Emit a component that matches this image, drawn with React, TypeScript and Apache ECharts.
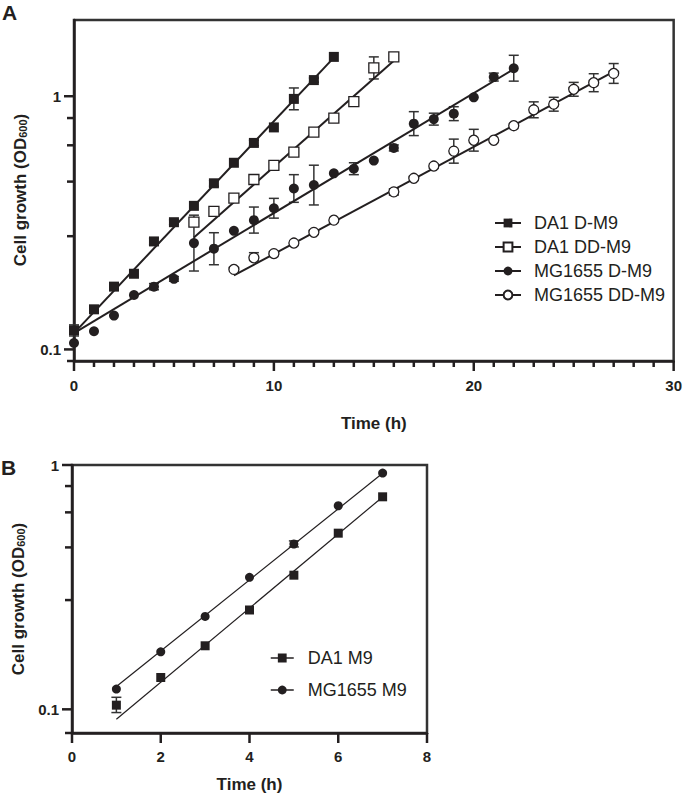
import React, { useEffect, useRef } from 'react';
import * as echarts from 'echarts';

const FONT = '"Liberation Sans", Arial, Helvetica, sans-serif';
const INK = '#231f20';

// ---------------- Panel A data ----------------
const hoursDA1_DM9 = [0, 1, 2, 3, 4, 5, 6, 7, 8, 9, 10, 11, 12, 13];
const odDA1_DM9 = [0.119, 0.144, 0.177, 0.199, 0.267, 0.318, 0.369, 0.453, 0.546, 0.654, 0.753, 0.976, 1.158, 1.43];
const errDA1_DM9 = [[0, 0.113, 0.125], [4, 0.259, 0.275], [5, 0.311, 0.325], [7, 0.441, 0.465], [9, 0.638, 0.67], [11, 0.884, 1.078], [12, 1.137, 1.18]];
const fitDA1_DM9 = [[0, 0.116], [13, 1.42]];

const hoursDA1_DDM9 = [6, 7, 8, 9, 10, 11, 12, 13, 14, 15, 16];
const odDA1_DDM9 = [0.318, 0.351, 0.396, 0.469, 0.533, 0.601, 0.722, 0.82, 0.952, 1.295, 1.43];
const errDA1_DDM9 = [[15, 1.17, 1.43]];
const fitDA1_DDM9 = [[6, 0.277], [16, 1.38]];

const hoursMG_DM9 = [0, 1, 2, 3, 4, 5, 6, 7, 8, 9, 10, 11, 12, 13, 14, 15, 16, 17, 18, 19, 20, 21, 22];
const odMG_DM9 = [0.106, 0.118, 0.136, 0.164, 0.177, 0.19, 0.263, 0.25, 0.294, 0.324, 0.361, 0.432, 0.446, 0.496, 0.517, 0.557, 0.625, 0.779, 0.812, 0.853, 0.99, 1.19, 1.29];
const errMG_DM9 = [[4, 0.172, 0.182], [5, 0.186, 0.194], [6, 0.204, 0.339], [7, 0.216, 0.289], [9, 0.288, 0.365], [10, 0.33, 0.395], [11, 0.381, 0.49], [12, 0.372, 0.534], [14, 0.49, 0.546], [16, 0.608, 0.642], [17, 0.699, 0.869], [18, 0.769, 0.857], [19, 0.801, 0.909], [21, 1.148, 1.234], [22, 1.147, 1.451]];
const fitMG_DM9 = [[0, 0.116], [22, 1.28]];

const hoursMG_DDM9 = [8, 9, 10, 11, 12, 13, 16, 17, 18, 19, 20, 21, 22, 23, 24, 25, 26, 27];
const odMG_DDM9 = [0.207, 0.23, 0.239, 0.263, 0.29, 0.324, 0.419, 0.474, 0.53, 0.607, 0.67, 0.67, 0.765, 0.884, 0.93, 1.065, 1.131, 1.23];
const errMG_DDM9 = [[9, 0.226, 0.241], [10, 0.236, 0.243], [12, 0.285, 0.295], [16, 0.407, 0.431], [18, 0.52, 0.54], [19, 0.544, 0.677], [20, 0.607, 0.74], [23, 0.822, 0.95], [24, 0.873, 0.99], [25, 1.0, 1.134], [26, 1.042, 1.227], [27, 1.124, 1.346]];
const fitMG_DDM9 = [[8, 0.196], [27, 1.25]];

// axis ticks, panel A
const yMinorTicksA = [0.09, 0.28, 0.46, 0.64, 0.82];
const xMajorTicksA = [0, 10, 20, 30];
const xMinorTicksA = [1, 2, 3, 4, 5, 6, 7, 8, 9, 11, 12, 13, 14, 15, 16, 17, 18, 19, 21, 22, 23, 24, 25, 26, 27, 28, 29];

// ---------------- Panel B data ----------------
const hoursB = [1, 2, 3, 4, 5, 6, 7];
const odDA1_M9 = [0.104, 0.135, 0.182, 0.255, 0.354, 0.526, 0.741];
const errDA1_M9 = [[1, 0.097, 0.112]];
const fitDA1_M9 = [[1, 0.091], [7, 0.74]];
const odMG_M9 = [0.121, 0.172, 0.24, 0.347, 0.475, 0.681, 0.927];
const errMG_M9 = [[5, 0.462, 0.489]];
const fitMG_M9 = [[1, 0.124], [7, 0.925]];

// axis ticks, panel B
const yMinorTicksB = [0.08, 0.28, 0.46, 0.64, 0.82];
const xMajorTicksB = [0, 2, 4, 6, 8];
const yMajorTicks = [0.1, 1];

const Y_MIN_A = 0.09;
const Y_MIN_B = 0.08;

const zip = (xs: number[], ys: number[]) => xs.map((x, i) => [x, ys[i]]);

function errSeries(idx: number, data: number[][]) {
  return {
    type: 'custom',
    xAxisIndex: idx,
    yAxisIndex: idx,
    clip: false,
    silent: true,
    z: 2,
    data,
    encode: { x: 0, y: [1, 2] },
    renderItem: (_p: any, api: any) => {
      const x = api.value(0);
      const lo = api.coord([x, api.value(1)]);
      const hi = api.coord([x, api.value(2)]);
      const w = 5;
      const st = { stroke: '#333', lineWidth: 1.5 };
      return {
        type: 'group',
        children: [
          { type: 'line', shape: { x1: lo[0], y1: lo[1], x2: hi[0], y2: hi[1] }, style: st },
          { type: 'line', shape: { x1: lo[0] - w, y1: lo[1], x2: lo[0] + w, y2: lo[1] }, style: st },
          { type: 'line', shape: { x1: hi[0] - w, y1: hi[1], x2: hi[0] + w, y2: hi[1] }, style: st },
        ],
      };
    },
  };
}

function fitSeries(idx: number, data: number[][], width: number) {
  return {
    type: 'line',
    xAxisIndex: idx,
    yAxisIndex: idx,
    data,
    showSymbol: false,
    silent: true,
    z: 3,
    lineStyle: { color: INK, width },
  };
}

function markSeries(idx: number, name: string, data: number[][], symbol: string, open: boolean, size: number) {
  return {
    type: 'line',
    name,
    xAxisIndex: idx,
    yAxisIndex: idx,
    data,
    symbol,
    symbolSize: size,
    showSymbol: true,
    z: 4,
    lineStyle: { opacity: 0, width: 0 },
    itemStyle: open
      ? { color: '#ffffff', borderColor: INK, borderWidth: 1.3 }
      : { color: INK, borderColor: INK, borderWidth: 0 },
  };
}

const labelFmt = (v: number) => (Math.abs(v - 0.1) < 1e-6 ? '0.1' : Math.abs(v - 1) < 1e-6 ? '1' : '');

const axisFont = { fontFamily: FONT, fontWeight: 'bold' as const, fontSize: 15, color: INK };

function yTitle(x: number, y: number) {
  return {
    type: 'text',
    x,
    y,
    rotation: Math.PI / 2,
    style: {
      text: '{t|Cell growth (OD}{s|600}{t|)}',
      align: 'center',
      verticalAlign: 'middle',
      rich: {
        t: { fontFamily: FONT, fontWeight: 'bold', fontSize: 17, fill: INK, lineHeight: 17, verticalAlign: 'top' },
        s: { fontFamily: FONT, fontWeight: 'bold', fontSize: 11, fill: INK, lineHeight: 10, verticalAlign: 'bottom', padding: [9, 0, 0, 0] },
      },
    },
  };
}

export default function App() {
  const ref = useRef<HTMLDivElement>(null);
  useEffect(() => {
    if (!ref.current) return;
    const chart = echarts.init(ref.current, undefined, { renderer: 'svg' });
    const baseGraphic: any[] = [
      { type: 'text', x: 2, y: 2, style: { text: 'A', fontFamily: FONT, fontWeight: 'bold', fontSize: 21, fill: INK } },
      { type: 'text', x: 1, y: 457, style: { text: 'B', fontFamily: FONT, fontWeight: 'bold', fontSize: 21, fill: INK } },
      yTitle(20, 190),
      yTitle(18, 599),
    ];
    const xAxisBase = {
      type: 'value',
      splitLine: { show: false },
      axisLine: { show: true, onZero: false, lineStyle: { color: INK, width: 2.5 } },
      axisTick: { show: false },
      minorTick: { show: false },
      nameLocation: 'middle',
      nameTextStyle: { fontFamily: FONT, fontWeight: 'bold', fontSize: 17, color: INK },
    };
    const yAxisBase = {
      type: 'log', logBase: 10,
      splitLine: { show: false },
      axisLine: { show: true, onZero: false, lineStyle: { color: INK, width: 2.5 } },
      axisTick: { show: false },
      minorTick: { show: false },
    };
    const option: any = {
      animation: false,
      backgroundColor: '#ffffff',
      grid: [
        { left: 74, top: 20, width: 602, height: 341, show: true, borderColor: '#333', borderWidth: 2.5, backgroundColor: 'transparent' },
        { left: 72, top: 465, width: 355, height: 268, show: true, borderColor: '#333', borderWidth: 2.5, backgroundColor: 'transparent' },
      ],
      xAxis: [
        { ...xAxisBase, gridIndex: 0, min: 0, max: 30, interval: 10, axisLabel: { ...axisFont, margin: 17 }, name: 'Time (h)', nameGap: 54 },
        { ...xAxisBase, gridIndex: 1, min: 0, max: 8, interval: 2, axisLabel: { ...axisFont, margin: 16 }, name: 'Time (h)', nameGap: 43 },
      ],
      yAxis: [
        { ...yAxisBase, gridIndex: 0, min: Y_MIN_A, max: 2, axisLabel: { ...axisFont, margin: 13, formatter: labelFmt, showMinLabel: false, showMaxLabel: false } },
        { ...yAxisBase, gridIndex: 1, min: Y_MIN_B, max: 1, axisLabel: { ...axisFont, margin: 13, formatter: labelFmt, showMinLabel: false } },
      ],
      legend: [
        {
          orient: 'vertical', left: 494, top: 214, padding: 0, itemGap: 6,
          itemWidth: 26, itemHeight: 11, selectedMode: false,
          data: ['DA1 D-M9', 'DA1 DD-M9', 'MG1655 D-M9', 'MG1655 DD-M9'],
          lineStyle: { color: INK, width: 2, opacity: 1 },
          textStyle: { fontFamily: FONT, fontSize: 18, color: INK, padding: [0, 0, 0, 8] },
        },
        {
          orient: 'vertical', left: 270, top: 649, padding: 0, itemGap: 14,
          itemWidth: 23, itemHeight: 11, selectedMode: false,
          data: ['DA1 M9', 'MG1655 M9'],
          lineStyle: { color: INK, width: 1.5, opacity: 1 },
          textStyle: { fontFamily: FONT, fontSize: 18, color: INK, padding: [0, 0, 0, 9] },
        },
      ],
      graphic: baseGraphic,
      series: [
        errSeries(0, errDA1_DM9),
        errSeries(0, errDA1_DDM9),
        errSeries(0, errMG_DM9),
        errSeries(0, errMG_DDM9),
        errSeries(1, errDA1_M9),
        errSeries(1, errMG_M9),
        fitSeries(0, fitDA1_DM9, 2),
        fitSeries(0, fitDA1_DDM9, 2),
        fitSeries(0, fitMG_DM9, 2),
        fitSeries(0, fitMG_DDM9, 2),
        fitSeries(1, fitDA1_M9, 1.2),
        fitSeries(1, fitMG_M9, 1.2),
        markSeries(0, 'DA1 D-M9', zip(hoursDA1_DM9, odDA1_DM9), 'rect', false, 10),
        markSeries(0, 'DA1 DD-M9', zip(hoursDA1_DDM9, odDA1_DDM9), 'rect', true, 10),
        markSeries(0, 'MG1655 D-M9', zip(hoursMG_DM9, odMG_DM9), 'circle', false, 10),
        markSeries(0, 'MG1655 DD-M9', zip(hoursMG_DDM9, odMG_DDM9), 'circle', true, 10),
        markSeries(1, 'DA1 M9', zip(hoursB, odDA1_M9), 'rect', false, 9),
        markSeries(1, 'MG1655 M9', zip(hoursB, odMG_M9), 'circle', false, 9),
      ],
    };
    chart.setOption(option);

    // Axis ticks (GraphPad-style linear minor ticks on the log axes), placed through the axis scales
    const ticks: any[] = [];
    const push = (x: number, y: number, w: number, h: number) =>
      ticks.push({ type: 'rect', silent: true, z: 100, shape: { x, y, width: w, height: h }, style: { fill: INK } });
    const addY = (g: number, values: number[], len: number) => {
      values.forEach((v) => {
        const p = chart.convertToPixel({ gridIndex: g } as any, [0, v]) as any;
        if (!p || !isFinite(p[0]) || !isFinite(p[1])) return;
        push(p[0] - len, p[1] - 1.25, len, 2.5);
      });
    };
    const addX = (g: number, values: number[], yMin: number, len: number) => {
      values.forEach((v) => {
        const p = chart.convertToPixel({ gridIndex: g } as any, [v, yMin]) as any;
        if (!p || !isFinite(p[0]) || !isFinite(p[1])) return;
        push(p[0] - 1.25, p[1], 2.5, len);
      });
    };
    addY(0, yMinorTicksA, 7);
    addY(0, yMajorTicks, 10);
    addY(1, yMinorTicksB, 7);
    addY(1, yMajorTicks, 10);
    addX(0, xMajorTicksA, Y_MIN_A, 10);
    addX(0, xMinorTicksA, Y_MIN_A, 6);
    addX(1, xMajorTicksB, Y_MIN_B, 10);
    chart.setOption({ graphic: [...baseGraphic, ...ticks] });

    return () => chart.dispose();
  }, []);
  return <div ref={ref} style={{ position: 'absolute', left: 0, top: 0, width: 685, height: 796 }} />;
}
